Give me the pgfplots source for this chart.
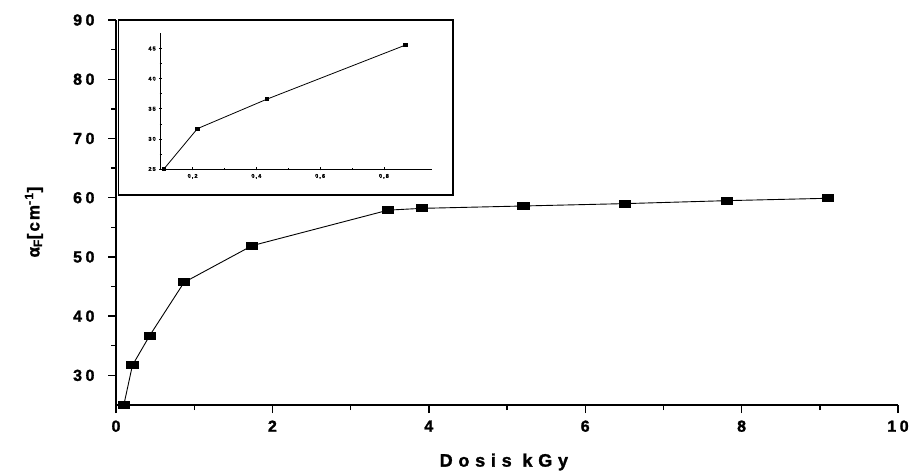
\documentclass[border=0pt]{standalone}
\usepackage{fontspec}
\setmainfont{Liberation Sans}
\newfontfamily\spacedA[LetterSpace=22, FakeBold=1.5]{Liberation Sans Bold}
\newfontfamily\spacedB[LetterSpace=32, FakeBold=1.5]{Liberation Sans Bold}
\newfontfamily\spacedC[LetterSpace=12, FakeBold=1.5]{Liberation Sans Bold}
\newfontfamily\spacedD[LetterSpace=20, FakeBold=2]{Liberation Sans Bold}
\usepackage{pgfplots}
\pgfplotsset{compat=1.18}
\begin{document}
\begin{tikzpicture}[x=1pt,y=1pt]
\begin{axis}[
  name=main,
  at={(116pt,67pt)}, anchor=south west,
  scale only axis, width=782pt, height=385pt,
  xmin=0, xmax=10, ymin=25, ymax=90,
  axis x line=bottom, axis y line=left,
  axis line style={-, line width=1.6pt},
  xtick={0,2,...,10}, minor x tick num=1,
  ytick={30,40,...,90}, minor y tick num=1,
  tick align=outside,
  major tick length=8pt, minor tick length=5pt,
  every tick/.style={black, line width=1.4pt},
  /pgf/number format/assume math mode=true,
  ticklabel style={font=\fontsize{16}{18}\selectfont\spacedA},
  xticklabel style={yshift=-4pt},
  yticklabel style={xshift=-10pt},
  xlabel={Dosis kGy},
  xlabel style={font=\fontsize{18}{20}\selectfont\spacedB, at={(axis description cs:0.496,-0.148)}, anchor=center},
  ylabel={α\textsubscript{F}[cm\textsuperscript{-1}]},
  ylabel style={font=\fontsize{17}{19}\selectfont\spacedC, at={(axis description cs:-0.105,0.475)}, anchor=center, rotate=0},
  clip=false,
]
\addplot[black, line width=0.9pt, mark=square*, mark size=3.5pt,
  mark options={xscale=1.6, solid, fill=black}]
coordinates {
(0.10,25.0) (0.21,31.7) (0.43,36.7) (0.87,45.7) (1.74,51.9)
(3.48,57.9) (3.91,58.2) (5.21,58.6) (6.51,59.0) (7.81,59.5) (9.10,59.9)
};
\end{axis}
\draw[line width=1.4pt, fill=white] (118.5,277) rectangle (453,452);
\begin{axis}[
  at={(160.7pt,303pt)}, anchor=south west,
  scale only axis, width=271pt, height=136pt,
  xmin=0.1, xmax=0.95, ymin=25, ymax=47.6,
  axis x line=bottom, axis y line=left,
  axis line style={-, line width=0.9pt},
  xtick={0.2,0.4,0.6,0.8}, minor x tick num=1,
  ytick={25,30,...,45}, minor y tick num=1,
  tick align=center,
  major tick length=3pt, minor tick length=2pt,
  every tick/.style={black, line width=0.7pt},
  /pgf/number format/.cd, use comma, fixed, fixed zerofill, precision=1, assume math mode=true,
  /pgfplots/.cd,
  xticklabel style={font=\fontsize{5.5}{6}\selectfont\spacedD, /pgf/number format/precision=1},
  yticklabel style={font=\fontsize{5.5}{6}\selectfont\spacedD, /pgf/number format/precision=0, /pgf/number format/fixed zerofill=false},
  clip=false,
]
\addplot[black, line width=0.8pt, mark=square*, mark size=1.4pt,
  mark options={xscale=1.4, solid, fill=black}]
coordinates {
(0.11,25.0) (0.215,31.7) (0.433,36.6) (0.868,45.6)
};
\end{axis}
\pgfresetboundingbox
\useasboundingbox (0,0) rectangle (910,472);
\end{tikzpicture}
\end{document}
